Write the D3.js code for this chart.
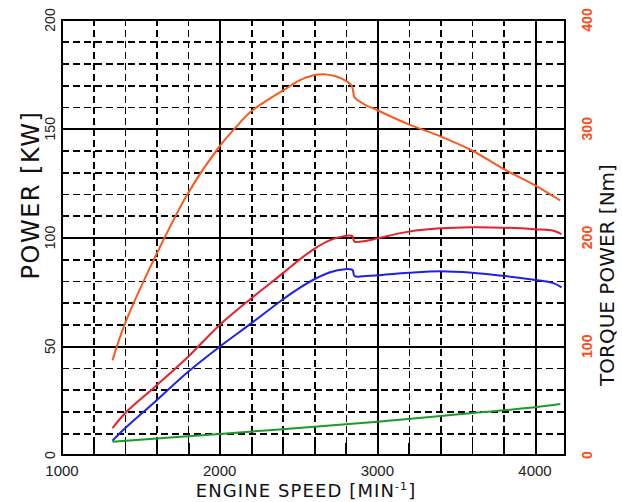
<!DOCTYPE html>
<html lang="en">
<head>
	<meta charset="UTF-8">
	<script src="https://cdn.jsdelivr.net/npm/d3@7"></script>
	<title>Engine power / torque</title>
	<style>
		body { margin: 0; background: #fff; }
		.grid line { stroke: #000; shape-rendering: crispEdges; }
		.grid .domain { display: none; }
		.tick-label { font-family: "Liberation Sans", Arial, sans-serif; }
		.title { font-family: "DejaVu Sans", sans-serif; fill: #111; }
	</style>
</head>
<body>
	<div id="container"></div>
<script>
	// engine speed [1/min]
	const rpm = [1320, 1400, 1590, 1800, 2000, 2100, 2200, 2320, 2400, 2500, 2590, 2670, 2740, 2800, 2835, 2845, 2855, 2910, 3000, 3200, 3400, 3600, 3800, 4000, 4160];
	// torque [Nm], right axis
	const torque = [87, 121, 182, 241, 284, 301, 316, 328, 335, 344, 349, 350, 348, 344, 340, 336, 329, 323, 317, 304, 293, 280, 263, 248, 234];

	const rpmP = [1320, 1400, 1590, 1800, 2000, 2200, 2400, 2500, 2600, 2700, 2795, 2835, 2845, 2855, 2932, 3000, 3200, 3400, 3600, 3800, 4000, 4116, 4168];
	// red power curve [kW]
	const powerRed = [12.3, 19.2, 31.4, 45.2, 59.8, 72, 83.5, 89.5, 94.8, 98.8, 100.7, 100.8, 100.3, 98.1, 98.5, 99.6, 102.7, 104.2, 104.7, 104.5, 103.8, 103.1, 101.6];
	// blue power curve [kW]
	const powerBlue = [6.6, 12.3, 24.5, 38.3, 49.8, 60.5, 71.5, 76.5, 80.8, 84, 85.4, 85.3, 84.8, 82.3, 82.3, 82.6, 83.8, 84.5, 83.8, 82.3, 80.5, 79, 77.1];

	const rpmG = [1320, 2000, 2500, 3000, 3500, 4000, 4160];
	const powerGreen = [6.1, 9.7, 12.4, 15.3, 18.6, 21.9, 23.4];

	const xTicks = [1000, 2000, 3000, 4000];
	const yTicks = [0, 50, 100, 150, 200];
	const yRTicks = [0, 100, 200, 300, 400];

	const width = 622, height = 502;
	const mLeft = 62, mRight = 565, mTop = 20, mBottom = 455;

	const x = d3.scaleLinear().domain([1000, 4190]).range([mLeft, mRight]);
	const y = d3.scaleLinear().domain([0, 200]).range([mBottom, mTop]);
	const yR = d3.scaleLinear().domain([0, 400]).range([mBottom, mTop]);

	const svg = d3.select('#container')
		.append('svg')
		.attr('width', width)
		.attr('height', height);

	// vertical grid, every 200 rpm
	svg.append('g')
		.attr('class', 'grid')
		.attr('transform', `translate(0, ${mBottom})`)
		.call(d3.axisBottom(x).tickValues(d3.range(1200, 4200, 200)).tickSize(-(mBottom - mTop)).tickFormat(''))
		.selectAll('line')
		.attr('stroke-width', d => d % 1000 === 0 ? 2 : 1.6)
		.attr('stroke-dasharray', d => d % 1000 === 0 ? null : '7,4');

	// small solid ticks along the bottom
	svg.append('g')
		.attr('class', 'grid')
		.attr('transform', `translate(0, ${mBottom})`)
		.call(d3.axisBottom(x).tickValues(d3.range(1200, 4200, 200)).tickSize(-12).tickFormat(''))
		.selectAll('line')
		.attr('stroke-width', 1.8);

	// horizontal grid, every 10 kW
	svg.append('g')
		.attr('class', 'grid')
		.attr('transform', `translate(${mLeft}, 0)`)
		.call(d3.axisLeft(y).tickValues(d3.range(10, 200, 10)).tickSize(-(mRight - mLeft)).tickFormat(''))
		.selectAll('line')
		.attr('stroke-width', d => d % 50 === 0 ? 2 : 1.6)
		.attr('stroke-dasharray', d => d % 50 === 0 ? null : '7,4');

	// frame
	svg.append('rect')
		.attr('x', mLeft).attr('y', mTop)
		.attr('width', mRight - mLeft).attr('height', mBottom - mTop)
		.attr('fill', 'none').attr('stroke', '#000').attr('stroke-width', 2);

	// curves
	const line = (xs, ys, sy) => d3.line()
		.x((d, i) => x(xs[i]))
		.y(d => sy(d))
		.curve(d3.curveCatmullRom.alpha(0.5))(ys);

	svg.append('path').attr('d', line(rpmG, powerGreen, y))
		.attr('fill', 'none').attr('stroke', '#1e9a2a').attr('stroke-width', 2);
	svg.append('path').attr('d', line(rpmP, powerBlue, y))
		.attr('fill', 'none').attr('stroke', '#1f22e6').attr('stroke-width', 2);
	svg.append('path').attr('d', line(rpmP, powerRed, y))
		.attr('fill', 'none').attr('stroke', '#e8202a').attr('stroke-width', 2);
	svg.append('path').attr('d', line(rpm, torque, yR))
		.attr('fill', 'none').attr('stroke', '#fa5a1e').attr('stroke-width', 2);

	// x tick labels
	svg.append('g')
		.selectAll('text')
		.data(xTicks)
		.join('text')
		.attr('class', 'tick-label')
		.attr('x', d => x(d))
		.attr('y', 476)
		.attr('text-anchor', 'middle')
		.attr('font-size', 15)
		.attr('fill', '#222')
		.text(d => d);

	// left tick labels, rotated
	svg.append('g')
		.selectAll('text')
		.data(yTicks)
		.join('text')
		.attr('class', 'tick-label')
		.attr('transform', d => `translate(55, ${y(d)}) rotate(-90)`)
		.attr('text-anchor', 'middle')
		.attr('font-size', 14)
		.attr('fill', '#222')
		.text(d => d);

	// right tick labels, rotated, orange
	svg.append('g')
		.selectAll('text')
		.data(yRTicks)
		.join('text')
		.attr('class', 'tick-label')
		.attr('transform', d => `translate(592, ${yR(d)}) rotate(-90)`)
		.attr('text-anchor', 'middle')
		.attr('font-size', 14)
		.attr('font-weight', 'bold')
		.attr('fill', '#ff4a1a')
		.text(d => d);

	// axis titles
	svg.append('text')
		.attr('class', 'title')
		.attr('transform', 'translate(39, 195) rotate(-90)')
		.attr('text-anchor', 'middle')
		.attr('font-size', 24)
		.attr('letter-spacing', 1.5)
		.text('POWER [KW]');

	svg.append('text')
		.attr('class', 'title')
		.attr('transform', 'translate(614, 275) rotate(-90)')
		.attr('text-anchor', 'middle')
		.attr('font-size', 20)
		.text('TORQUE POWER [Nm]');

	const xt = svg.append('text')
		.attr('class', 'title')
		.attr('x', 306)
		.attr('y', 497)
		.attr('text-anchor', 'middle')
		.attr('font-size', 18)
		.attr('letter-spacing', 1.1);
	xt.append('tspan').text('ENGINE SPEED [MIN');
	xt.append('tspan').attr('font-size', 11).attr('dy', -7).text('-1');
	xt.append('tspan').attr('dy', 7).text(']');
</script>
</body>
</html>
